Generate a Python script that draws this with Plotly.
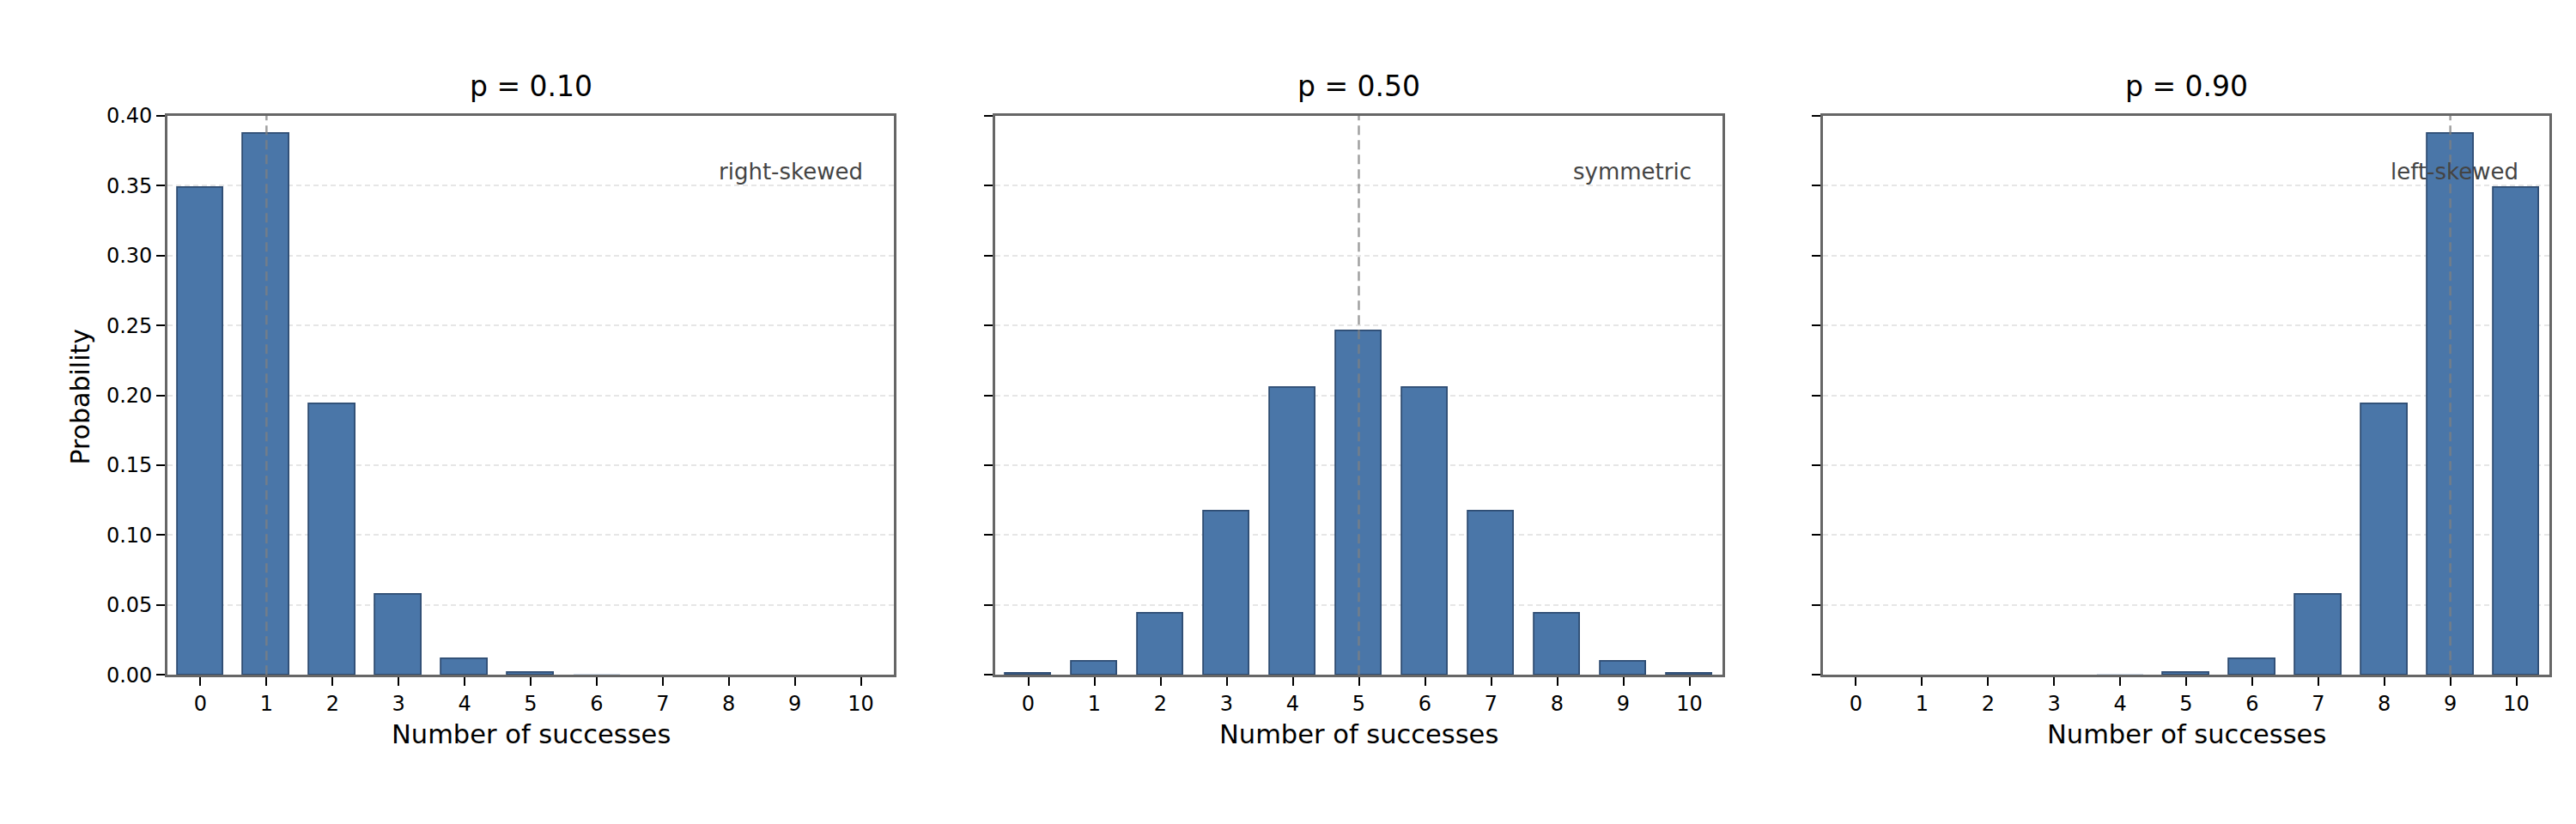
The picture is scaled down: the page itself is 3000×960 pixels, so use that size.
import plotly.graph_objects as go

# --- Data: binomial pmf, n = 10 ---
successes = list(range(11))
tick_labels = [str(k) for k in successes]
p_labels = ["p = 0.10", "p = 0.50", "p = 0.90"]
shape_labels = ["right-skewed", "symmetric", "left-skewed"]
means = [1, 5, 9]

prob_p010 = [0.3487, 0.3874, 0.1937, 0.0574, 0.0112, 0.0015, 0.0001, 0.0000, 0.0000, 0.0000, 0.0000]
prob_p050 = [0.0010, 0.0098, 0.0439, 0.1172, 0.2051, 0.2461, 0.2051, 0.1172, 0.0439, 0.0098, 0.0010]
prob_p090 = [0.0000, 0.0000, 0.0000, 0.0000, 0.0001, 0.0015, 0.0112, 0.0574, 0.1937, 0.3874, 0.3487]
series = [prob_p010, prob_p050, prob_p090]

y_ticks = [0.0, 0.05, 0.10, 0.15, 0.20, 0.25, 0.30, 0.35, 0.40]

# --- Layout constants (pixel positions in the 3000x960 page) ---
FONT = "DejaVu Sans"
BAR_COLOR = "#4a76a8"
EDGE_COLOR = "#2e4c72"
W, H, PAD = 3000, 960, 8          # page size and the body margin of the html page
FW, FH = W - 2 * PAD, H - 2 * PAD
Y_MID, Y_SCALE = 462, 0.974       # the photo comes out slightly squashed vertically

def px_x(x):
    return (x - PAD) / FW

def px_y(y):
    y = Y_MID + (y - Y_MID) / Y_SCALE
    return 1 - (y - PAD) / FH

panel_px = [(195, 1041), (1159, 2006), (2123, 2969)]
top_px, bottom_px = 133, 787

fig = go.Figure()

for i, (vals, (left, right)) in enumerate(zip(series, panel_px)):
    ax = "" if i == 0 else str(i + 1)
    dom = [px_x(left), px_x(right)]

    # bars too small to see get no outline (matplotlib hides them under the spine)
    edge_w = [1.8 if v >= 0.0005 else 0 for v in vals]
    fig.add_trace(go.Bar(
        x=successes, y=vals,
        width=0.7,
        marker=dict(color=BAR_COLOR, line=dict(color=EDGE_COLOR, width=edge_w)),
        xaxis="x" + ax, yaxis="y" + ax,
        showlegend=False,
    ))

    fig.update_layout(**{
        "xaxis" + ax: dict(
            domain=dom, anchor="y" + ax,
            range=[-0.5, 10.5],
            tickmode="array", tickvals=successes, ticktext=tick_labels,
            ticks="outside", ticklen=10, tickwidth=2.2, tickcolor="black",
            tickfont=dict(family=FONT, size=24, color="black"),
            showgrid=False, zeroline=False,
            showline=True, linecolor="#666666", linewidth=2.6, mirror=True,
        ),
        "yaxis" + ax: dict(
            domain=[px_y(bottom_px), px_y(top_px)], anchor="x" + ax,
            range=[0, 0.40],
            tickmode="array", tickvals=y_ticks,
            ticktext=[f"{v:.2f}" for v in y_ticks] if i == 0 else [""] * len(y_ticks),
            ticks="outside", ticklen=10, tickwidth=2.2, tickcolor="black",
            tickfont=dict(family=FONT, size=24, color="black"),
            showgrid=True, gridcolor="#e6e6e6", gridwidth=1.6, griddash="6px,4px",
            zeroline=False,
            showline=True, linecolor="#666666", linewidth=2.6, mirror=True,
        ),
    })

    # mean marker line
    fig.add_shape(
        type="line", xref="x" + ax, yref="y" + ax,
        x0=means[i], x1=means[i], y0=0, y1=0.40,
        line=dict(color="rgba(128,128,128,0.75)", width=2.5, dash="11px,6px"),
        layer="above",
    )

    # panel title
    fig.add_annotation(
        text=p_labels[i], xref="paper", yref="paper",
        x=(dom[0] + dom[1]) / 2, y=px_y(99), xanchor="center", yanchor="middle",
        showarrow=False, font=dict(family=FONT, size=33, color="black"),
    )

    # x axis title
    fig.add_annotation(
        text="Number of successes", xref="paper", yref="paper",
        x=(dom[0] + dom[1]) / 2, y=px_y(856), xanchor="center", yanchor="middle",
        showarrow=False, font=dict(family=FONT, size=30.5, color="black"),
    )

    # shape label
    fig.add_annotation(
        text=shape_labels[i], xref="x" + ax + " domain", yref="y" + ax + " domain",
        x=0.96, y=0.9, xanchor="right", yanchor="middle",
        showarrow=False, font=dict(family=FONT, size=26, color="#444444"),
    )

# shared y axis title
fig.add_annotation(
    text="Probability", xref="paper", yref="paper",
    x=px_x(94), y=px_y(462), xanchor="center", yanchor="middle", textangle=-90,
    showarrow=False, font=dict(family=FONT, size=30, color="black"),
)

fig.update_layout(
    width=FW, height=FH,
    paper_bgcolor="white", plot_bgcolor="white",
    margin=dict(l=0, r=0, t=0, b=0),
    bargap=0,
)

fig.write_html("out.html")
